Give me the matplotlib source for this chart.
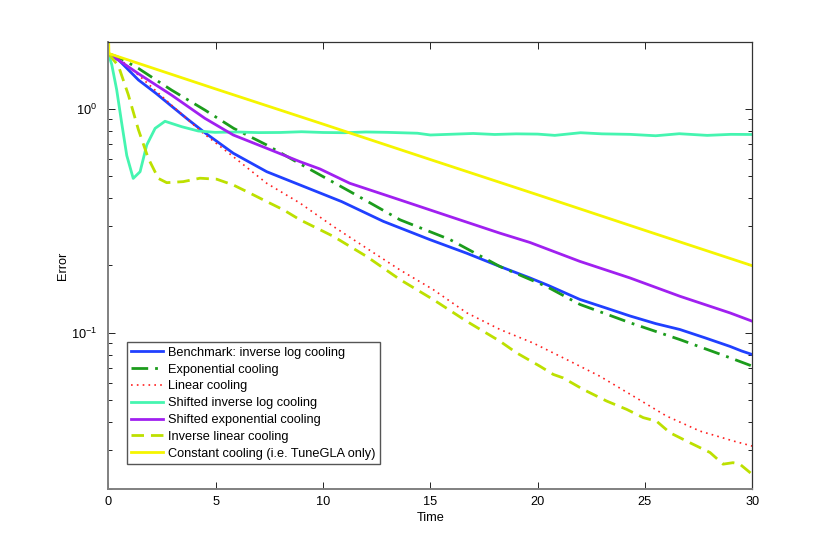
import matplotlib
matplotlib.use("Agg")
import matplotlib.pyplot as plt
import numpy as np
from matplotlib.ticker import LogLocator, NullFormatter, FixedLocator

plt.rcParams['font.family'] = ['Liberation Sans', 'DejaVu Sans']
plt.rcParams['mathtext.fontset'] = 'custom'
plt.rcParams['mathtext.rm'] = 'Liberation Sans'
plt.rcParams['mathtext.it'] = 'Liberation Sans:italic'
plt.rcParams['mathtext.bf'] = 'Liberation Sans:bold'

# ---- data ----
labels = ["Benchmark: inverse log cooling", "Exponential cooling", "Linear cooling",
          "Shifted inverse log cooling", "Shifted exponential cooling",
          "Inverse linear cooling", "Constant cooling (i.e. TuneGLA only)"]

t_bench = [0, 0.5, 1.4, 2.2, 2.95, 3.7, 4.5, 5.82, 7.38, 8.93, 10.87, 12.81, 14.98,
           16.69, 18.24, 19.64, 20.49, 21.97, 23.2, 24.3, 25.5, 26.63, 27.8, 28.96, 29.5, 30]
v_bench = [1.77, 1.65, 1.35, 1.18, 1.03, 0.90, 0.784, 0.635, 0.525, 0.458, 0.386, 0.315, 0.261,
           0.227, 0.198, 0.176, 0.163, 0.141, 0.129, 0.119, 0.110, 0.1035, 0.095, 0.087, 0.083, 0.080]

t_exp = [0, 0.5, 1.4, 2.95, 4.5, 5.84, 7.38, 8.92, 11.26, 13.59, 15.92, 18.24, 20.42,
         21.97, 24.3, 26.63, 28.96, 30]
v_exp = [1.77, 1.70, 1.52, 1.215, 0.99, 0.82, 0.691, 0.570, 0.428, 0.320, 0.261, 0.198, 0.161,
         0.134, 0.111, 0.0933, 0.0774, 0.071]

t_lin = [0, 0.7, 1.4, 2.18, 2.95, 3.73, 4.35, 5.82, 7.38, 8.93, 10.48, 12.03, 13.59, 15.14,
         16.69, 18.25, 19.8, 21.35, 22.9, 24.45, 26.0, 27.56, 28.34, 29.1, 30]
v_lin = [1.77, 1.62, 1.42, 1.215, 1.04, 0.893, 0.79, 0.613, 0.466, 0.38, 0.299, 0.239, 0.191, 0.156,
         0.123, 0.1035, 0.090, 0.076, 0.064, 0.0522, 0.0425, 0.0364, 0.0346, 0.0329, 0.0312]

t_sil = [0, 0.16, 0.39, 0.62, 0.86, 1.16, 1.48, 1.79, 2.18, 2.64, 3.42, 4.19, 4.97,
         6, 7, 8, 9, 10, 11, 12, 13, 14.4, 15, 16, 17, 18, 19, 20, 20.8, 22, 23, 24.3,
         25.5, 26.6, 27.9, 29, 30]
v_sil = [1.77, 1.58, 1.22, 0.87, 0.62, 0.49, 0.525, 0.691, 0.82, 0.882, 0.834, 0.798, 0.787,
         0.790, 0.785, 0.786, 0.792, 0.786, 0.784, 0.790, 0.787, 0.780, 0.766, 0.772, 0.778,
         0.770, 0.775, 0.773, 0.763, 0.784, 0.775, 0.771, 0.760, 0.776, 0.763, 0.771, 0.770]

t_sexp = [0, 0.5, 1.4, 2.95, 4.5, 5.82, 7.38, 8.93, 9.86, 11.25, 13.58, 15.91, 18.24,
          19.64, 21.97, 24.3, 26.63, 28.96, 30]
v_sexp = [1.77, 1.65, 1.44, 1.154, 0.909, 0.766, 0.668, 0.582, 0.54, 0.466, 0.393, 0.331, 0.279,
          0.2535, 0.2086, 0.176, 0.1457, 0.1228, 0.1127]

t_ilin = [0, 0.47, 0.93, 1.4, 1.86, 2.33, 2.72, 3.49, 4.27, 5.05, 5.82, 6.6, 7.38, 8.15, 8.93,
          9.86, 10.48, 12.03, 13.59, 15.14, 16.69, 18.24, 19.02, 20.1, 20.73, 21.19, 22.12,
          23.21, 24.15, 24.92, 25.54, 26.16, 27.09, 28.03, 28.64, 29.1, 29.42, 30]
v_ilin = [1.77, 1.56, 1.16, 0.81, 0.603, 0.49, 0.469, 0.474, 0.491, 0.486, 0.458, 0.421, 0.386,
          0.355, 0.32, 0.289, 0.27, 0.2196, 0.173, 0.1408, 0.1127, 0.0918, 0.0814, 0.071, 0.0652,
          0.0629, 0.0559, 0.0496, 0.0455, 0.0418, 0.0403, 0.0358, 0.0323, 0.0292, 0.0259, 0.0263,
          0.0259, 0.0233]

t_const = [0, 0.03, 5, 10, 15, 20, 25, 30]
v_const = [2.3, 1.77, 1.23, 0.857, 0.595, 0.414, 0.287, 0.1995]

colors = ['#2040ff', '#1c9c1c', '#ff2020', '#45f5b0', '#a020f0', '#bde000', '#f5f500']

fig = plt.figure(figsize=(8.3, 5.51), dpi=100)
ax = fig.add_axes([0.1305, 0.112, 0.7759, 0.8123])

lw = 2.0
ax.plot(t_bench, v_bench, color=colors[0], lw=lw, label=labels[0])
ax.plot(t_exp, v_exp, color=colors[1], lw=lw, linestyle=(0, (6, 2.5, 1, 2.5)), label=labels[1])
ax.plot(t_lin, v_lin, color=colors[2], lw=1.2, linestyle=(0, (1, 2.5)), label=labels[2])
ax.plot(t_sil, v_sil, color=colors[3], lw=lw, label=labels[3])
ax.plot(t_sexp, v_sexp, color=colors[4], lw=lw, label=labels[4])
ax.plot(t_ilin, v_ilin, color=colors[5], lw=lw, linestyle=(0, (4.5, 2.5)), label=labels[5])
ax.plot(t_const, v_const, color=colors[6], lw=lw, label=labels[6])

ax.set_yscale('log')
ax.set_xlim(0, 30)
ax.set_ylim(0.02, 2.0)
ax.set_xticks([0, 5, 10, 15, 20, 25, 30])
ax.yaxis.set_major_locator(FixedLocator([0.1, 1.0]))
ax.yaxis.set_minor_locator(LogLocator(base=10, subs=np.arange(2, 10)))
ax.yaxis.set_minor_formatter(NullFormatter())

ax.tick_params(which='both', direction='in', top=True, right=True, labelsize=9.2, colors='#222222')
ax.tick_params(which='major', length=5, width=0.7)
ax.tick_params(which='minor', length=3, width=0.7)
ax.tick_params(axis='both', labelcolor='black')
ax.tick_params(axis='x', which='major', pad=4.6)
ax.tick_params(axis='y', which='major', pad=7.8)

for s in ['left', 'bottom']:
    ax.spines[s].set_color('#808080')
    ax.spines[s].set_linewidth(1.4)
for s in ['top', 'right']:
    ax.spines[s].set_color('#333333')
    ax.spines[s].set_linewidth(0.9)

ax.set_xlabel('Time', fontsize=9.2, labelpad=3)
ax.set_ylabel('Error', fontsize=9.2, labelpad=2)

leg = ax.legend(loc='lower left', bbox_to_anchor=(0.0286, 0.0559), borderaxespad=0,
                fontsize=9.2, handlelength=2.5, handletextpad=0.4, labelspacing=0.38,
                borderpad=0.35, fancybox=False, framealpha=1)
leg.get_frame().set_edgecolor('#555555')
leg.get_frame().set_linewidth(1.0)

fig.savefig('out.png', dpi=100)
